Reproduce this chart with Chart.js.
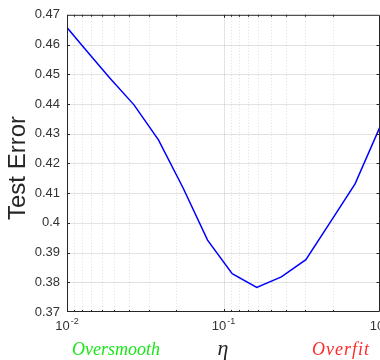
<!DOCTYPE html>
<html>
<head>
<meta charset="utf-8">
<script src="https://cdn.jsdelivr.net/npm/chart.js@4"></script>
<style>
  body { margin: 0; background: #fff; }
  #wrap { width: 380px; height: 360px; }
</style>
</head>
<body>
<div id="wrap"><canvas id="myChart"></canvas></div>
<script>
// eta values (x, log scale) and test error (y)
const etaValues = [0.01, 0.013, 0.0187, 0.0268, 0.0384, 0.0551, 0.0791, 0.1136, 0.1631, 0.2342, 0.3361, 0.4827, 0.6929, 1.0];
const testError = [0.4657, 0.4586, 0.4488, 0.4397, 0.4279, 0.4118, 0.3942, 0.3829, 0.3783, 0.3818, 0.3876, 0.4003, 0.4131, 0.4323];

const xDecades = [-2, -1, 0];
const yMin = 0.37;
const yMax = 0.47;
const yStep = 0.01;

const xLabel = "η";
const yLabel = "Test Error";
const leftNote = "Oversmooth";
const rightNote = "Overfit";

const axisColor = "#262626";

// minor ticks in the original sit at 10^d * 10/k (mirrored log spacing)
const minorTicks = [];
for (let i = 0; i < xDecades.length - 1; i++) {
  for (let k = 2; k <= 9; k++) {
    minorTicks.push(Math.pow(10, xDecades[i]) * 10 / k);
  }
}

const decorations = {
  id: "decorations",
  beforeDatasetsDraw(chart) {
    const { ctx, chartArea, scales } = chart;
    const { left, right, top, bottom } = chartArea;
    ctx.save();
    // horizontal grid
    ctx.strokeStyle = "rgba(0,0,0,0.11)";
    ctx.lineWidth = 1;
    for (let v = yMin + yStep; v < yMax - 1e-9; v += yStep) {
      const y = Math.round(scales.y.getPixelForValue(v)) + 0.5;
      ctx.beginPath();
      ctx.moveTo(left, y);
      ctx.lineTo(right, y);
      ctx.stroke();
    }
    // major vertical grid
    xDecades.forEach((d) => {
      const x = Math.round(scales.x.getPixelForValue(Math.pow(10, d))) + 0.5;
      if (x <= left + 1 || x >= right - 1) return;
      ctx.beginPath();
      ctx.moveTo(x, top);
      ctx.lineTo(x, bottom);
      ctx.stroke();
    });
    // minor vertical grid (dotted)
    ctx.strokeStyle = "rgba(0,0,0,0.13)";
    ctx.setLineDash([1, 2]);
    minorTicks.forEach((v) => {
      const x = Math.round(scales.x.getPixelForValue(v)) + 0.5;
      ctx.beginPath();
      ctx.moveTo(x, top);
      ctx.lineTo(x, bottom);
      ctx.stroke();
    });
    ctx.restore();
  },
  afterDatasetsDraw(chart) {
    const { ctx, chartArea, scales } = chart;
    const { left, top, bottom } = chartArea;
    const right = chartArea.right - 0.5;
    ctx.save();
    ctx.strokeStyle = axisColor;
    ctx.lineWidth = 1;
    // box
    ctx.beginPath();
    ctx.rect(left + 0.5, top + 0.5, right - left - 0.5, bottom - top - 1);
    ctx.stroke();
    // y ticks (inward, both sides)
    for (let v = yMin + yStep; v < yMax - 1e-9; v += yStep) {
      const y = Math.round(scales.y.getPixelForValue(v)) + 0.5;
      ctx.beginPath();
      ctx.moveTo(left, y); ctx.lineTo(left + 3, y);
      ctx.moveTo(right, y); ctx.lineTo(right - 3, y);
      ctx.stroke();
    }
    // x ticks (inward, top and bottom)
    const xTick = (v, len) => {
      const x = Math.round(scales.x.getPixelForValue(v)) + 0.5;
      ctx.beginPath();
      ctx.moveTo(x, bottom); ctx.lineTo(x, bottom - len);
      ctx.moveTo(x, top); ctx.lineTo(x, top + len);
      ctx.stroke();
    };
    xDecades.forEach((d) => xTick(Math.pow(10, d), 3));
    minorTicks.forEach((v) => xTick(v, 2));

    // x tick labels 10^d
    ctx.fillStyle = "#333";
    ctx.textBaseline = "alphabetic";
    xDecades.forEach((d) => {
      const x = scales.x.getPixelForValue(Math.pow(10, d));
      ctx.font = '13px "Liberation Sans", Arial, sans-serif';
      const base = "10";
      const wBase = ctx.measureText(base).width;
      ctx.font = '9px "Liberation Sans", Arial, sans-serif';
      const sup = String(d);
      const wSup = ctx.measureText(sup).width;
      const x0 = x - (wBase + 1 + wSup) / 2;
      ctx.font = '13px "Liberation Sans", Arial, sans-serif';
      ctx.textAlign = "left";
      ctx.fillText(base, x0, 330);
      ctx.font = '9px "Liberation Sans", Arial, sans-serif';
      ctx.fillText(sup, x0 + wBase + 1, 323.5);
    });

    // y axis title
    ctx.save();
    ctx.translate(18, 168);
    ctx.rotate(-Math.PI / 2);
    ctx.font = '24px "Liberation Sans", Arial, sans-serif';
    ctx.fillStyle = axisColor;
    ctx.textAlign = "center";
    ctx.textBaseline = "middle";
    ctx.fillText(yLabel, 0, 0);
    ctx.restore();

    // x axis title and notes
    ctx.font = 'italic 22px "Liberation Serif", "DejaVu Serif", serif';
    ctx.fillStyle = axisColor;
    ctx.textAlign = "center";
    ctx.fillText(xLabel, 223, 355);

    ctx.font = 'italic 18px "Liberation Serif", "DejaVu Serif", serif';
    ctx.textAlign = "left";
    ctx.fillStyle = "#19e619";
    ctx.fillText(leftNote, 72, 355);
    ctx.fillStyle = "#ff2a2a";
    ctx.letterSpacing = "1px";
    ctx.fillText(rightNote, 312, 355);
    ctx.restore();
  },
};

const ctx = document.getElementById("myChart");

new Chart(ctx, {
  type: "scatter",
  data: {
    datasets: [
      {
        label: yLabel,
        data: etaValues.map((x, i) => ({ x: x, y: testError[i] })),
        showLine: true,
        borderColor: "#0000ff",
        backgroundColor: "#0000ff",
        borderWidth: 1.5,
        pointRadius: 0,
        tension: 0,
      },
    ],
  },
  options: {
    responsive: true,
    maintainAspectRatio: false,
    animation: false,
    layout: { padding: { top: 12, right: 0, bottom: 0, left: 0 } },
    plugins: {
      legend: { display: false },
      tooltip: { enabled: false },
    },
    scales: {
      x: {
        type: "logarithmic",
        min: 0.01,
        max: 1,
        grid: { display: false, drawTicks: false },
        border: { display: false },
        ticks: { display: false },
        afterFit: (scale) => {
          scale.height = 48;
        },
      },
      y: {
        min: yMin,
        max: yMax,
        grid: { display: false, drawTicks: false },
        border: { display: false },
        ticks: {
          stepSize: yStep,
          padding: 7,
          color: "#333",
          font: { family: '"Liberation Sans", Arial, sans-serif', size: 13 },
          callback: (value) => Number(value.toFixed(2)).toString(),
        },
        afterFit: (scale) => {
          scale.width = 67;
        },
      },
    },
  },
  plugins: [decorations],
});
</script>
</body>
</html>
